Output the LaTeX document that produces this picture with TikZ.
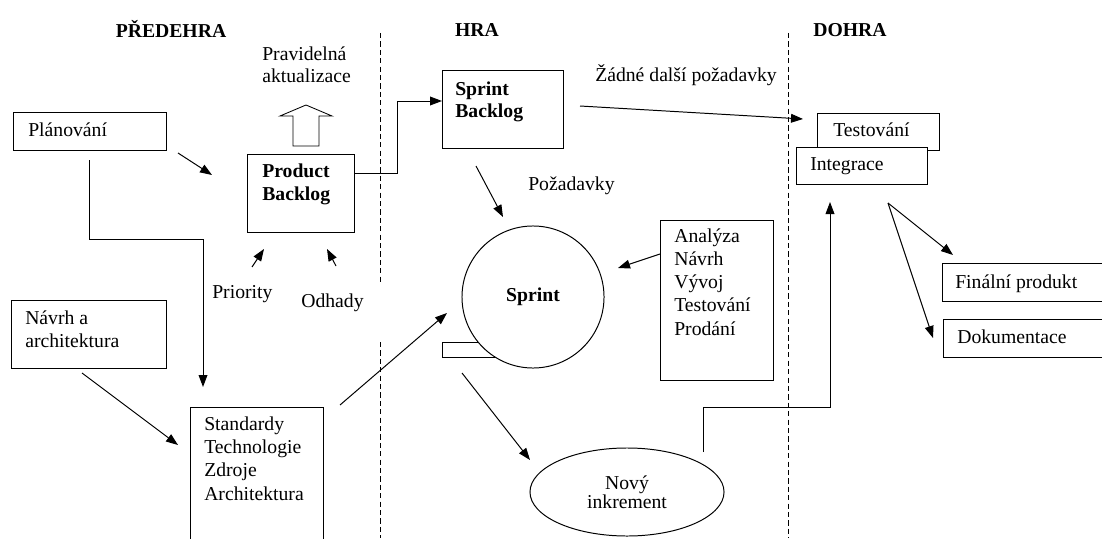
\documentclass[tikz,border=0pt]{standalone}
\usepackage{fontspec}
\setmainfont{Liberation Serif}
\usetikzlibrary{arrows.meta,shapes.geometric}
\tikzset{%
    box/.style={%
        draw, shape=rectangle, anchor=north west, inner sep=0pt, line width=0.7pt
    },
    lbl/.style={%
        anchor=base west, align=left, inner sep=0pt
    },
    arr/.style={%
        -{Triangle[length=0.3cm, width=0.22cm]}, line width=0.7pt
    },
    phase/.style={%
        line width=0.6pt, dash pattern=on 0.13cm off 0.08cm
    }
}

\begin{document}
\begin{tikzpicture}[x=0.025cm, y=-0.025cm,
    every node/.style={font=\fontsize{14}{16}\selectfont}]
    \clip (0,0) rectangle (1102,538);

    \draw[phase]
        (380,33) -- (380,282)
        (380,342) -- (380,538)
        (788,33) -- (788,538);

    \node[anchor=base, font=\fontsize{14}{16}\selectfont\bfseries] (predehra) at (171,38) {PŘEDEHRA};
    \node[anchor=base, font=\fontsize{14}{16}\selectfont\bfseries] (hra) at (477,37) {HRA};
    \node[anchor=base, font=\fontsize{14}{16}\selectfont\bfseries] (dohra) at (850,37) {DOHRA};

    \node[box, minimum width=3.825cm, minimum height=0.95cm] (plan) at (13,112) {};
    \node[box, minimum width=3.875cm, minimum height=1.7cm] (navrh) at (11,300) {};
    \node[box, minimum width=2.675cm, minimum height=1.95cm] (pb) at (247,154) {};
    \node[box, minimum width=3.025cm, minimum height=1.95cm] (sb) at (442,70) {};
    \node[box, minimum width=2.825cm, minimum height=4cm] (anal) at (660,220) {};
    \node[box, minimum width=3.325cm, minimum height=3.75cm] (std) at (190,407) {};
    \node[box, minimum width=3.05cm, minimum height=0.925cm] (test) at (817,113) {};
    \node[box, fill=white, minimum width=3.275cm, minimum height=0.925cm] (integ) at (796,147) {};
    \node[box, minimum width=4.05cm, minimum height=0.95cm] (final) at (942,263) {};
    \node[box, minimum width=4.05cm, minimum height=0.95cm] (dok) at (943,319) {};
    \node[box, minimum width=1.45cm, minimum height=0.375cm] (tab) at (442,342) {};
    \node[draw, shape=circle, fill=white, line width=0.7pt, minimum size=3.55cm] (sprint) at (533,297) {};
    \node[draw, shape=ellipse, line width=0.7pt, minimum width=4.85cm, minimum height=2.2cm,
        align=center, font=\fontsize{14}{12}\selectfont] (novy) at (627,492) {Nový\\inkrement};

    % multi-line labels sit on their last baseline
    \node[lbl] (plan-t) at (28,137) {Plánování};
    \node[lbl] (navrh-t) at (25,347) {Návrh a\\architektura};
    \node[lbl, font=\fontsize{14}{16}\selectfont\bfseries] (pb-t) at (262,200) {Product\\Backlog};
    \node[lbl, font=\fontsize{14}{16}\selectfont\bfseries] (sb-t) at (455,118) {Sprint\\Backlog};
    \node[lbl, font=\fontsize{14}{16.5}\selectfont] (anal-t) at (674,335) {Analýza\\Návrh\\Vývoj\\Testování\\Prodání};
    \node[lbl, font=\fontsize{14}{16.5}\selectfont] (std-t) at (204,500) {Standardy\\Technologie\\Zdroje\\Architektura};
    \node[lbl] (test-t) at (833,137) {Testování};
    \node[lbl] (integ-t) at (810,170) {Integrace};
    \node[lbl] (final-t) at (955,288) {Finální produkt};
    \node[lbl] (dok-t) at (957,343) {Dokumentace};
    \node[anchor=base, font=\fontsize{14}{16}\selectfont\bfseries] (sprint-t) at (533,301) {Sprint};

    \node[lbl] (update) at (262,83) {Pravidelná\\aktualizace};
    \node[lbl] (priority) at (212,298) {Priority};
    \node[lbl] (odhady) at (301,307) {Odhady};
    \node[lbl] (pozadavky) at (528,190) {Požadavky};
    \node[lbl] (zadne) at (595,82) {Žádné další požadavky};

    \draw[line width=0.6pt]
        (293,146) -- (293,116) -- (280,116) -- (306,105) -- (332,116) -- (319,116) -- (319,146) -- cycle;

    \coordinate (plan-out) at (89,160);
    \coordinate (std-in) at (203,387);
    \coordinate (bend) at (397,101);
    \coordinate (sb-out) at (580,106);
    \coordinate (test-in) at (803,119);
    \coordinate (sb-down) at (476,166);
    \coordinate (sprint-top) at (503,217);
    \coordinate (sprint-right) at (618,268);
    \coordinate (std-out) at (340,405);
    \coordinate (sprint-left) at (447,313);
    \coordinate (sprint-out) at (462,373);
    \coordinate (novy-in) at (530,460);
    \coordinate (novy-out) at (703,452);
    \coordinate (integ-in) at (830,202);
    \coordinate (integ-out) at (888,203);
    \coordinate (final-in) at (953,255);
    \coordinate (dok-in) at (933,338);
    \coordinate (navrh-out) at (82,373);
    \coordinate (std-left) at (178,445);
    \coordinate (plan-arr) at (178,153);
    \coordinate (pb-in) at (212,175);
    \coordinate (prio-a) at (252,267);
    \coordinate (prio-b) at (264,249);
    \coordinate (odh-a) at (336,266);
    \coordinate (odh-b) at (327,249);

    \draw[arr]
        (plan-arr) -- (pb-in);
    \draw[arr]
        (plan-out) |- (std-in |- 0,239) -- (std-in);
    \draw[arr]
        ([yshift=0.5cm]pb.east) -| (bend) -- (bend -| sb.west);
    \draw[arr]
        (sb-out) -- (test-in);
    \draw[arr]
        (sb-down) -- (sprint-top);
    \draw[arr]
        (anal.west |- 0,254) -- (sprint-right);
    \draw[arr]
        (std-out) -- (sprint-left);
    \draw[arr]
        (sprint-out) -- (novy-in);
    \draw[arr]
        (novy-out) |- (integ-in |- 0,407) -- (integ-in);
    \draw[arr]
        (integ-out) -- (final-in);
    \draw[arr]
        (integ-out) -- (dok-in);
    \draw[arr]
        (navrh-out) -- (std-left);
    \draw[arr]
        (prio-a) -- (prio-b);
    \draw[arr]
        (odh-a) -- (odh-b);
\end{tikzpicture}
\end{document}
